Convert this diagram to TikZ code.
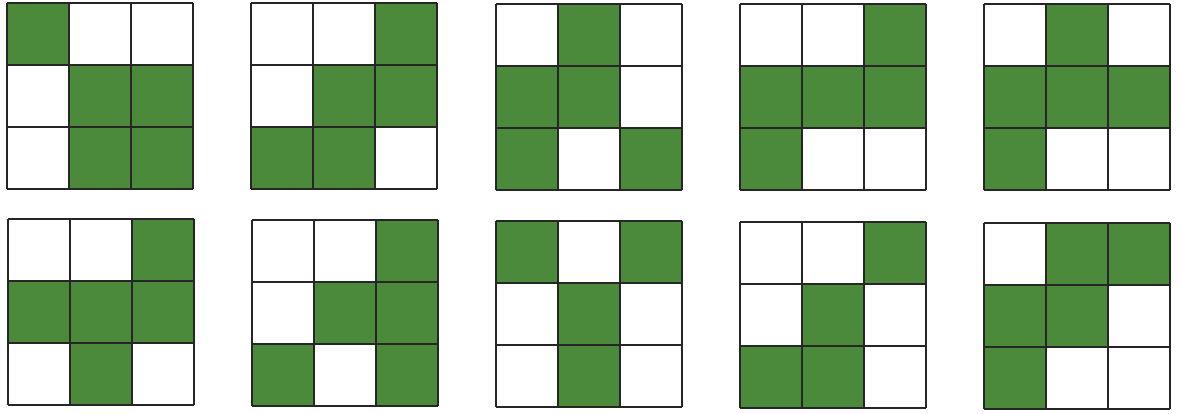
\documentclass[tikz,border=0pt]{standalone}
\definecolor{cellgreen}{RGB}{74,138,58}
\tikzset{
  gridline/.style={draw=black!85, line width=1.4pt},
  filled/.style={fill=cellgreen},
}
\newcommand{\drawgrid}[3]{% x, y (top-left), list of cells r/c
  \begin{scope}[shift={(#1,#2)}]
    \foreach \r/\c in {#3} {
      \fill[filled] (\c*62,\r*62) rectangle ++(62,62);
    }
    \foreach \i in {0,1,2,3} {
      \draw[gridline] (\i*62,0) -- (\i*62,186);
      \draw[gridline] (0,\i*62) -- (186,\i*62);
    }
  \end{scope}
}
\begin{document}
\begin{tikzpicture}[x=1pt,y=-1pt]
\useasboundingbox (0,0) rectangle (1180,413);
\fill[white] (0,0) rectangle (1180,413);
% top row
\drawgrid{7}{3}{0/0,1/1,1/2,2/1,2/2}
\drawgrid{251}{3}{0/2,1/1,1/2,2/0,2/1}
\drawgrid{496}{4}{0/1,1/0,1/1,2/0,2/2}
\drawgrid{740}{4}{0/2,1/0,1/1,1/2,2/0}
\drawgrid{984}{4}{0/1,1/0,1/1,1/2,2/0}
% bottom row
\drawgrid{8}{219}{0/2,1/0,1/1,1/2,2/1}
\drawgrid{252}{220}{0/2,1/1,1/2,2/0,2/2}
\drawgrid{496}{221}{0/0,0/2,1/1,2/1}
\drawgrid{740}{222}{0/2,1/1,2/0,2/1}
\drawgrid{984}{223}{0/1,0/2,1/0,1/1,2/0}
\end{tikzpicture}
\end{document}
